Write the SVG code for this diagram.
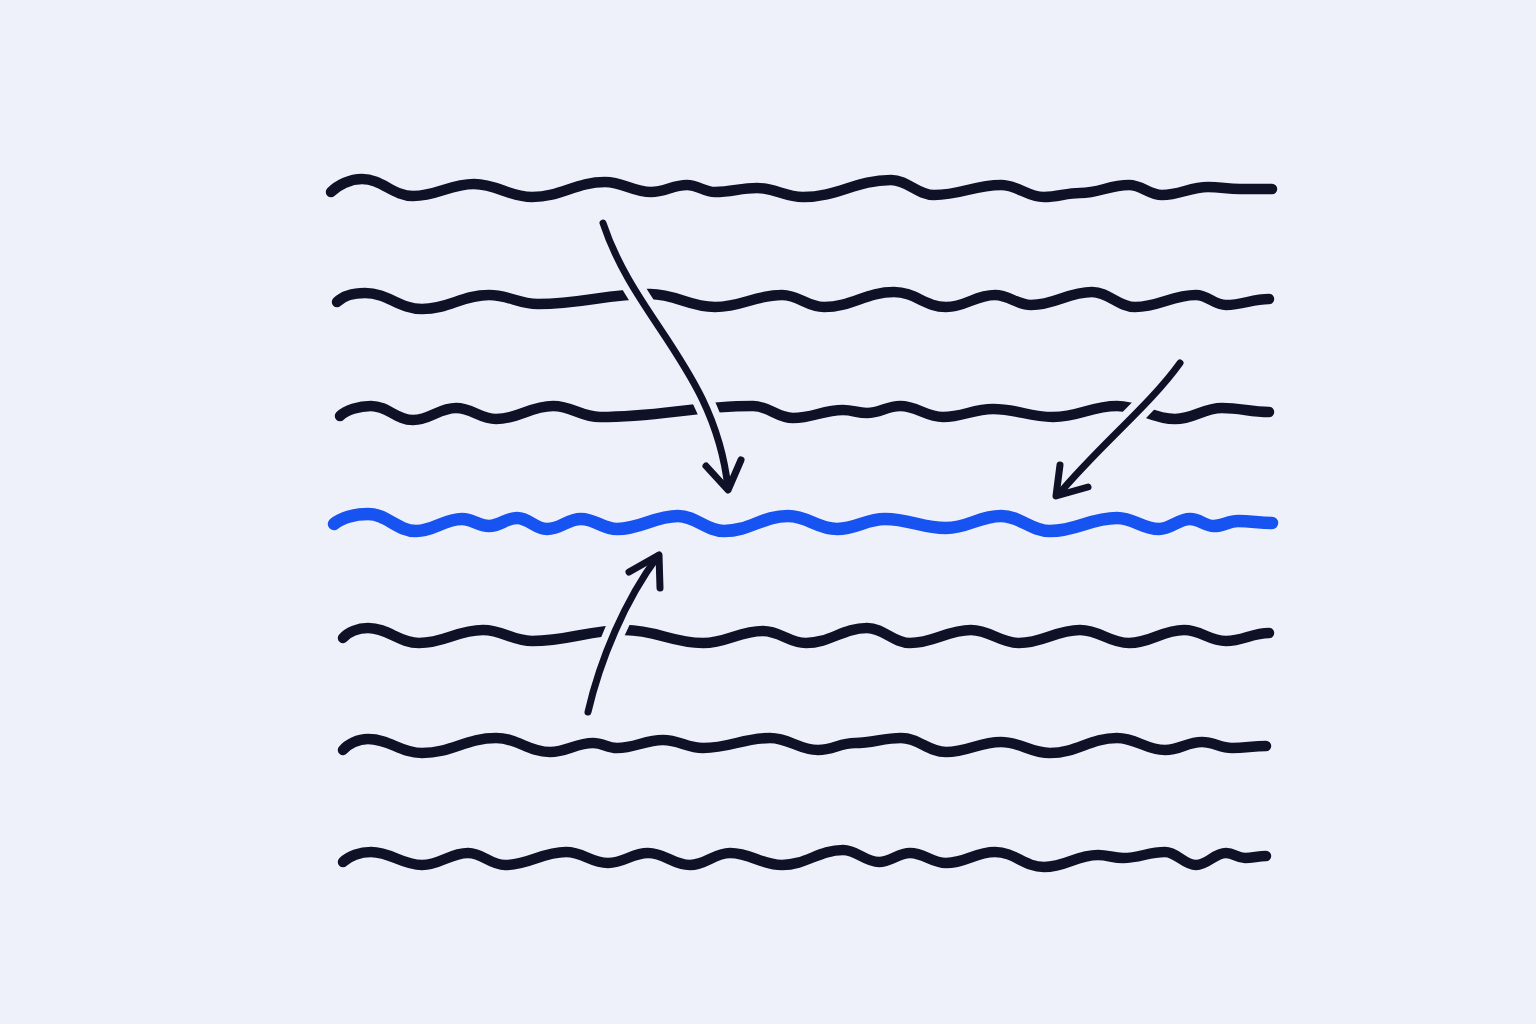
<svg xmlns="http://www.w3.org/2000/svg" width="1536" height="1024" viewBox="0 0 1536 1024">
<style>
.wave{fill:none;stroke:#0f1226;stroke-width:10.5;stroke-linecap:round;stroke-linejoin:round}
.hi{fill:none;stroke:#1753f0;stroke-width:12.5;stroke-linecap:round;stroke-linejoin:round}
.halo{fill:none;stroke:#eef0fa;stroke-width:21;stroke-linecap:butt}
.arr{fill:none;stroke:#0f1226;stroke-width:7;stroke-linecap:round;stroke-linejoin:round}
</style>
<rect width="1536" height="1024" fill="#eef0fa"/>
<g id="lines">
<path id="line1" class="wave" d="M331,192 C338,185 350,179 362,179 C382,179 393,196 413,196 C437,196 450,184 474,184 C497,184 509,197 532,197 C561,197 576,182 605,182 C623,182 633,192 651,192 C665,192 673,185 687,185 C698,185 704,192 715,192 C732,192 740,188 757,188 C775,188 785,197 803,197 C838,197 856,180 891,180 C908,180 917,195 934,195 C961,195 974,185 1001,185 C1018,185 1027,197 1044,197 C1058,197 1066,193 1080,193 C1100,193 1109,185 1129,185 C1142,185 1149,195 1162,195 C1180,195 1190,187 1208,187 C1221,187 1227,189 1240,189 L1272,189"/>
<path id="line2" class="wave" d="M337,302 C343,296 354,293 365,293 C388,293 399,309 422,309 C449,309 462,295 489,295 C509,295 518,304 538,304 C583,304 605,294 650,294 C676,294 689,307 715,307 C742,307 755,295 782,295 C799,295 807,307 824,307 C852,307 866,292 894,292 C915,292 925,307 946,307 C966,307 975,295 995,295 C1009,295 1017,305 1031,305 C1055,305 1068,292 1092,292 C1109,292 1118,307 1135,307 C1159,307 1172,295 1196,295 C1208,295 1214,305 1226,305 C1243,305 1252,299 1269,299"/>
<path id="line3" class="wave" d="M340,416 C346,410 359,406 371,406 C388,406 396,420 413,420 C430,420 439,408 456,408 C472,408 480,419 496,419 C519,419 530,406 553,406 C572,406 581,417 600,417 C661,417 692,406 753,406 C769,406 777,418 793,418 C813,418 823,410 843,410 C853,410 857,413 867,413 C880,413 887,406 900,406 C917,406 926,417 943,417 C963,417 973,409 993,409 C1017,409 1029,417 1053,417 C1079,417 1091,406 1117,406 C1140,406 1152,419 1175,419 C1194,419 1203,408 1222,408 C1241,408 1250,412 1269,412"/>
<path id="line4" class="hi" d="M334,524 C341,518 354,514 368,514 C387,514 397,531 416,531 C434,531 444,519 462,519 C473,519 478,526 489,526 C500,526 506,518 517,518 C529,518 535,529 547,529 C561,529 567,519 581,519 C595,519 603,529 617,529 C641,529 654,516 678,516 C696,516 706,531 724,531 C750,531 762,516 788,516 C808,516 817,529 837,529 C856,529 866,519 885,519 C909,519 922,528 946,528 C968,528 979,516 1001,516 C1021,516 1030,531 1050,531 C1077,531 1090,518 1117,518 C1134,518 1142,529 1159,529 C1171,529 1178,519 1190,519 C1200,519 1204,526 1214,526 C1224,526 1228,521 1238,521 C1252,521 1258,523 1272,523"/>
<path id="line5" class="wave" d="M343,638 C348,632 358,628 368,628 C388,628 399,643 419,643 C445,643 457,630 483,630 C503,630 512,641 532,641 C569,641 588,630 625,630 C656,630 672,643 703,643 C727,643 739,631 763,631 C780,631 789,643 806,643 C830,643 843,628 867,628 C884,628 893,643 910,643 C934,643 947,630 971,630 C990,630 1000,643 1019,643 C1043,643 1056,630 1080,630 C1100,630 1109,643 1129,643 C1151,643 1162,630 1184,630 C1201,630 1209,641 1226,641 C1243,641 1252,633 1269,633"/>
<path id="line6" class="wave" d="M343,750 C348,744 358,739 368,739 C390,739 400,753 422,753 C452,753 466,738 496,738 C518,738 528,752 550,752 C567,752 576,743 593,743 C603,743 607,748 617,748 C635,748 645,740 663,740 C679,740 687,748 703,748 C730,748 743,738 770,738 C789,738 799,750 818,750 C833,750 840,743 855,743 C873,743 883,738 901,738 C919,738 928,752 946,752 C968,752 979,742 1001,742 C1021,742 1030,753 1050,753 C1077,753 1090,738 1117,738 C1136,738 1146,750 1165,750 C1180,750 1187,742 1202,742 C1214,742 1220,748 1232,748 C1246,748 1252,746 1266,746"/>
<path id="line7" class="wave" d="M343,862 C349,856 360,852 371,852 C391,852 402,865 422,865 C440,865 450,853 468,853 C483,853 490,865 505,865 C529,865 542,852 566,852 C583,852 591,863 608,863 C624,863 632,853 648,853 C665,853 673,865 690,865 C706,865 714,853 730,853 C751,853 761,865 782,865 C806,865 819,850 843,850 C857,850 865,862 879,862 C891,862 898,853 910,853 C924,853 932,863 946,863 C966,863 975,852 995,852 C1015,852 1024,867 1044,867 C1066,867 1076,855 1098,855 C1108,855 1113,858 1123,858 C1140,858 1148,852 1165,852 C1177,852 1184,865 1196,865 C1208,865 1214,853 1226,853 C1234,853 1237,858 1245,858 C1253,858 1258,856 1266,856"/>
</g>
<g id="connectors">
<path class="halo" d="M603,223 C635,320 715,370 728,488"/>
<path class="halo" d="M1180,363 C1150,405 1100,445 1059,494"/>
<path class="halo" d="M588,712 C600,660 625,600 658,556"/>
<g id="arrow1">
<path class="arr" d="M603,223 C635,320 715,370 728,488"/>
<path class="arr" d="M706,466 L728,490 L741,460"/>
</g>
<g id="arrow2">
<path class="arr" d="M1180,363 C1150,405 1100,445 1059,494"/>
<path class="arr" d="M1060,465 L1056,496 L1088,487"/>
</g>
<g id="arrow3">
<path class="arr" d="M588,712 C600,660 625,600 658,556"/>
<path class="arr" d="M629,572 L659,555 L660,588"/>
</g>
</g>
</svg>
